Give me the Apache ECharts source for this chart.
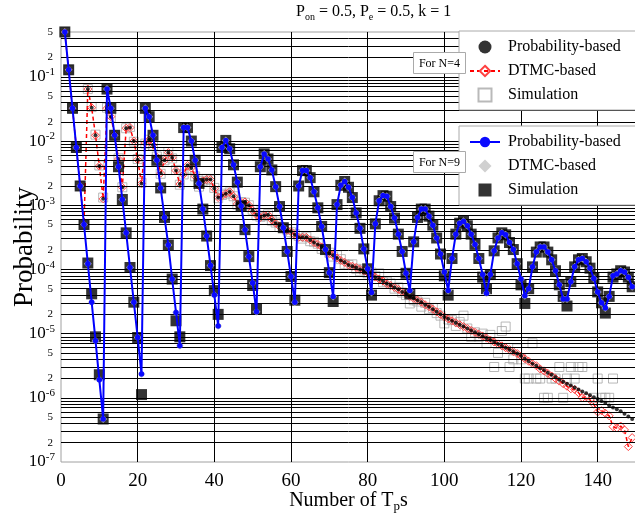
<!DOCTYPE html>
<html>
<head>
<meta charset="utf-8">
<script src="https://cdn.jsdelivr.net/npm/echarts@6/dist/echarts.min.js"></script>
<style>html,body{margin:0;padding:0;background:#fff}#c{width:635px;height:517px}</style>
</head>
<body>
<div id="c"></div>
<script>
// All probabilities are stored as log10(probability).
// Step index k = 1, 2, 3, ... (Number of Tps)
const n9ProbLog10 = [
 -0.30,-0.89,-1.49,-2.10,-2.70,-3.30,-3.91,-4.51,-5.11,-5.72,
 -6.33,-1.19,-1.49,-1.91,-2.40,-2.91,-3.43,-3.97,-4.51,-5.06,
 -5.63,-1.49,-1.62,-1.91,-2.30,-2.73,-3.19,-3.62,-4.15,-4.67,
 -5.19,-1.79,-1.79,-2.00,-2.30,-2.66,-3.06,-3.48,-3.94,-4.40,
 -4.88,-2.10,-1.99,-2.12,-2.37,-2.64,-3.01,-3.38,-3.80,-4.21,
 -4.66,-2.40,-2.20,-2.28,-2.45,-2.71,-3.02,-3.35,-3.72,-4.11,
 -4.51,-2.70,-2.46,-2.46,-2.57,-2.79,-3.04,-3.33,-3.69,-4.05,
 -4.42,-2.99,-2.69,-2.63,-2.72,-2.88,-3.12,-3.36,-3.68,-3.99,
 -4.36,-3.29,-2.93,-2.85,-2.86,-3.02,-3.20,-3.45,-3.72,-4.06,
 -4.33,-3.57,-3.19,-3.06,-3.06,-3.17,-3.31,-3.51,-3.76,-4.04,
 -4.33,-3.83,-3.45,-3.28,-3.25,-3.32,-3.45,-3.61,-3.83,-4.08,
 -4.37,-4.08,-3.71,-3.51,-3.43,-3.46,-3.58,-3.69,-3.91,-4.15,
 -4.41,-4.30,-3.96,-3.73,-3.65,-3.65,-3.73,-3.85,-4.02,-4.24,
 -4.46,-4.46,-4.19,-3.96,-3.85,-3.83,-3.88,-3.98,-4.14,-4.35,
 -4.52,-4.60,-4.42,-4.10,-4.07,-4.02,-4.04,-4.12,-4.27
];
const n9DtmcLog10 = [
 -0.30,-0.89,-1.49,-2.10,-2.70,-3.30,-3.91,-4.51,-5.11,-5.72,
 -6.33,-1.19,-1.49,-1.91,-2.40,-2.91,-3.43,-3.97,-4.51,-5.06,
 -5.63,-1.49,-1.62,-1.91,-2.30,-2.73,-3.19,-3.62,-4.15,-4.67,
 -5.19,-1.79,-1.79,-2.00,-2.30,-2.66,-3.06,-3.48,-3.94,-4.40,
 -4.88,-2.10,-1.99,-2.12,-2.37,-2.64,-3.01,-3.38,-3.80,-4.21,
 -4.66,-2.40,-2.20,-2.28,-2.45,-2.71,-3.02,-3.35,-3.72,-4.11,
 -4.51,-2.70,-2.46,-2.46,-2.57,-2.79,-3.04,-3.33,-3.69,-4.05,
 -4.42,-2.99,-2.69,-2.63,-2.72,-2.88,-3.12,-3.36,-3.68,-3.99,
 -4.36,-3.29,-2.93,-2.85,-2.86,-3.02,-3.20,-3.45,-3.72,-4.06,
 -4.33,-3.57,-3.19,-3.06,-3.06,-3.17,-3.31,-3.51,-3.76,-4.04,
 -4.33,-3.83,-3.45,-3.28,-3.25,-3.32,-3.45,-3.61,-3.83,-4.08,
 -4.37,-4.08,-3.71,-3.51,-3.43,-3.46,-3.58,-3.69,-3.91,-4.15,
 -4.41,-4.30,-3.96,-3.73,-3.65,-3.65,-3.73,-3.85,-4.02,-4.24,
 -4.46,-4.46,-4.19,-3.96,-3.85,-3.83,-3.88,-3.98,-4.14,-4.35,
 -4.52,-4.60,-4.42,-4.10,-4.07,-4.02,-4.04,-4.12,-4.27
];
const n9SimLog10 = [
 -0.30,-0.89,-1.49,-2.10,-2.70,-3.30,-3.90,-4.38,-5.05,-5.64,
 -6.33,-1.19,-1.49,-1.91,-2.40,-2.91,-3.43,-3.97,-4.51,-5.06,
 -5.95,-1.49,-1.62,-1.91,-2.30,-2.73,-3.19,-3.62,-4.15,-4.80,
 -5.05,-1.79,-1.79,-2.00,-2.30,-2.66,-3.06,-3.48,-3.94,-4.33,
 -4.70,-2.10,-1.99,-2.12,-2.37,-2.64,-3.01,-3.38,-3.80,-4.25,
 -4.62,-2.40,-2.20,-2.28,-2.45,-2.71,-3.02,-3.35,-3.72,-4.11,
 -4.48,-2.70,-2.46,-2.46,-2.57,-2.79,-3.04,-3.33,-3.69,-4.05,
 -4.50,-2.99,-2.69,-2.63,-2.72,-2.88,-3.12,-3.36,-3.68,-3.99,
 -4.40,-3.29,-2.93,-2.85,-2.86,-3.02,-3.20,-3.45,-3.72,-4.06,
 -4.38,-3.57,-3.19,-3.06,-3.06,-3.17,-3.31,-3.51,-3.76,-4.10,
 -4.40,-3.83,-3.45,-3.28,-3.25,-3.32,-3.45,-3.61,-3.83,-4.12,
 -4.30,-4.08,-3.71,-3.51,-3.43,-3.46,-3.58,-3.69,-3.91,-4.24,
 -4.53,-4.30,-3.96,-3.73,-3.65,-3.65,-3.73,-3.85,-4.02,-4.24,
 -4.42,-4.57,-4.19,-3.96,-3.85,-3.83,-3.88,-3.98,-4.14,-4.35,
 -4.52,-4.68,-4.42,-4.12,-4.07,-4.02,-4.04,-4.12,-4.27
];
const n4ProbLog10 = [
 -0.30,-0.89,-1.49,-2.10,-2.70,-3.30,-1.19,-1.48,-1.91,-2.39,
 -2.90,-1.49,-1.62,-1.90,-2.28,-2.72,-1.80,-1.79,-2.00,-2.29,
 -2.66,-2.03,-1.98,-2.06,-2.25,-2.50,-2.30,-2.18,-2.26,-2.46,
 -2.67,-2.52,-2.38,-2.42,-2.55,-2.70,-2.62,-2.60,-2.60,-2.74,
 -2.88,-2.85,-2.82,-2.79,-2.86,-2.98,-2.96,-2.95,-3.00,-3.08,
 -3.15,-3.19,-3.16,-3.15,-3.23,-3.28,-3.33,-3.36,-3.39,-3.41,
 -3.46,-3.50,-3.50,-3.50,-3.54,-3.58,-3.61,-3.65,-3.70,-3.75,
 -3.78,-3.82,-3.86,-3.89,-3.93,-3.95,-3.97,-4.00,-4.02,-4.05,
 -4.08,-4.12,-4.15,-4.18,-4.22,-4.25,-4.28,-4.31,-4.35,-4.38,
 -4.42,-4.45,-4.48,-4.51,-4.55,-4.58,-4.62,-4.66,-4.70,-4.74,
 -4.77,-4.80,-4.83,-4.86,-4.89,-4.92,-4.95,-4.98,-5.01,-5.04,
 -5.07,-5.10,-5.13,-5.16,-5.19,-5.22,-5.25,-5.28,-5.31,-5.35,
 -5.39,-5.43,-5.47,-5.50,-5.54,-5.57,-5.61,-5.64,-5.68,-5.72,
 -5.75,-5.78,-5.81,-5.84,-5.87,-5.90,-5.93,-5.96,-5.99,-6.02,
 -6.05,-6.08,-6.12,-6.15,-6.18,-6.21,-6.25,-6.29,-6.33
];
const n4DtmcLog10 = [
 -0.30,-0.89,-1.49,-2.10,-2.70,-3.30,-1.19,-1.48,-1.91,-2.39,
 -2.90,-1.49,-1.62,-1.90,-2.28,-2.72,-1.80,-1.79,-2.00,-2.29,
 -2.66,-2.03,-1.98,-2.06,-2.25,-2.50,-2.30,-2.18,-2.26,-2.46,
 -2.67,-2.52,-2.38,-2.42,-2.55,-2.70,-2.62,-2.60,-2.60,-2.74,
 -2.88,-2.85,-2.82,-2.79,-2.86,-2.98,-2.96,-2.95,-3.00,-3.08,
 -3.15,-3.19,-3.16,-3.15,-3.23,-3.28,-3.33,-3.36,-3.39,-3.41,
 -3.46,-3.50,-3.50,-3.50,-3.54,-3.58,-3.61,-3.65,-3.70,-3.75,
 -3.78,-3.82,-3.86,-3.89,-3.93,-3.95,-3.97,-4.00,-4.02,-4.05,
 -4.08,-4.12,-4.15,-4.18,-4.22,-4.25,-4.28,-4.31,-4.35,-4.38,
 -4.42,-4.45,-4.48,-4.51,-4.55,-4.58,-4.62,-4.66,-4.70,-4.74,
 -4.77,-4.80,-4.83,-4.86,-4.89,-4.92,-4.95,-4.98,-5.01,-5.04,
 -5.07,-5.10,-5.13,-5.16,-5.19,-5.22,-5.25,-5.28,-5.31,-5.35,
 -5.39,-5.43,-5.47,-5.50,-5.55,-5.58,-5.62,-5.66,-5.70,-5.74,
 -5.78,-5.82,-5.86,-5.87,-5.92,-6.00,-5.98,-6.03,-6.10,-6.22,
 -6.20,-6.24,-6.28,-6.45,-6.47,-6.44,-6.50,-6.76,-6.62
];
const n4SimLog10 = [
 -0.30,-0.89,-1.49,-2.10,-2.70,-3.30,-1.19,-1.47,-1.90,-2.38,
 -2.88,-1.48,-1.63,-1.91,-2.27,-2.72,-1.80,-1.78,-2.01,-2.28,
 -2.65,-2.04,-1.98,-2.07,-2.24,-2.51,-2.30,-2.17,-2.27,-2.45,
 -2.68,-2.52,-2.37,-2.43,-2.55,-2.71,-2.62,-2.59,-2.61,-2.73,
 -2.89,-2.84,-2.82,-2.80,-2.86,-2.99,-2.95,-2.96,-3.00,-3.07,
 -3.16,-3.18,-3.17,-3.14,-3.24,-3.27,-3.34,-3.35,-3.38,-3.42,
 -3.45,-3.48,-3.52,-3.49,-3.56,-3.57,-3.60,-3.68,-3.69,-3.74,
 -3.80,-3.78,-3.84,-3.92,-3.93,-3.92,-3.99,-4.03,-4.00,-4.06,
 -4.05,-4.10,-4.06,-4.20,-4.19,-4.22,-4.30,-4.28,-4.36,-4.40,
 -4.53,-4.48,-4.50,-4.58,-4.52,-4.62,-4.60,-4.68,-4.72,-4.84,
 -4.78,-4.79,-4.88,-4.82,-4.72,-4.92,-5.05,-4.98,-5.05,-5.00,
 -5.15,-5.02,-5.52,-5.30,-4.96,-4.89,-5.52,-5.40,-5.23,-5.40,
 -5.70,-5.70,-5.15,-5.70,-5.70,-6.00,-6.00,-5.70,-5.70,-5.52,
 -6.00,-5.70,-5.52,-5.70,-5.52,-5.52,null,null,-6.00,-5.70,
 -6.00,-6.00,-6.00,-5.70,null,null,null,null,null
];
const xTicks = [0, 20, 40, 60, 80, 100, 120, 140];
const decades = [-7, -6, -5, -4, -3, -2, -1];
const minorMantissas = [2, 3, 4, 5, 6, 7, 8, 9];
const labeledMantissas = [2, 5];

const FONT = 'Liberation Serif';
const pairs = arr => arr.map((v, i) => [i + 1, v]);
const Y_MAX = -1 + Math.log10(5);   // top of axis = 0.5

// y tick label positions (log10 space)
const yLabelValues = [];
decades.forEach(d => {
  yLabelValues.push(d);
  labeledMantissas.forEach(m => yLabelValues.push(d + Math.log10(m)));
});
// horizontal grid line positions
const hLines = [];
decades.forEach(d => {
  if (d !== -7) hLines.push({ yAxis: d });
  minorMantissas.forEach(m => {
    const v = d + Math.log10(m);
    if (v < Y_MAX - 1e-6) hLines.push({ yAxis: v });
  });
});
const vLines = xTicks.filter(t => t > 0).map(t => ({ xAxis: t }));

const SQUARE_ICON = 'path://M0,0L10,0L10,10L0,10Z';
const DIAMOND_ICON = 'path://M5,0L10,5L5,10L0,5Z';

const legendCommon = {
  orient: 'vertical', left: 459, itemWidth: 30, itemHeight: 13, itemGap: 8,
  padding: [8, 40, 7, 10], backgroundColor: '#fff', borderColor: '#aaa', borderWidth: 1,
  selectedMode: false, symbolKeepAspect: true, z: 50, formatter: n => n.slice(3),
  textStyle: { fontFamily: FONT, fontSize: 16, color: '#000', padding: [0, 0, 0, 3] }
};

const chart = echarts.init(document.getElementById('c'), null, { renderer: 'canvas' });
chart.setOption({
  animation: false,
  backgroundColor: '#fff',
  grid: { left: 61, top: 32, width: 575, height: 430, show: true, borderColor: '#a0a0a0', borderWidth: 1, backgroundColor: 'transparent', containLabel: false, outerBoundsMode: 'none' },
  xAxis: {
    type: 'value', min: 0, max: 150, interval: 20,
    axisLine: { show: false }, axisTick: { show: false }, splitLine: { show: false },
    axisLabel: { color: '#000', fontFamily: FONT, fontSize: 19, margin: 10, formatter: v => (v % 20 === 0 && v <= 140) ? String(v) : '' },
    name: '{a|Number of T}{s|p}{a|s}', nameLocation: 'middle', nameGap: 29, nameMoveOverlap: false,
    nameTextStyle: { color: '#000', fontFamily: FONT, fontSize: 20,
      rich: { a: { fontFamily: FONT, fontSize: 20, color: '#000', lineHeight: 22, verticalAlign: 'top' },
              s: { fontFamily: FONT, fontSize: 13, color: '#000', lineHeight: 13, verticalAlign: 'bottom' } } }
  },
  yAxis: {
    type: 'value', min: -7, max: Y_MAX, interval: 1,
    axisLine: { show: false }, axisTick: { show: false }, splitLine: { show: false },
    axisLabel: {
      customValues: yLabelValues, margin: 6, color: '#000',
      formatter: v => {
        const d = Math.floor(v + 1e-6);
        const m = Math.round(Math.pow(10, v - d));
        if (m === 1) return '{b|10}{s|' + d + '}';
        return '{m|' + m + '}';
      },
      rich: {
        b: { fontFamily: FONT, fontSize: 17, color: '#000', lineHeight: 20 },
        s: { fontFamily: FONT, fontSize: 11, color: '#000', lineHeight: 11, padding: [0, 0, 9, 0] },
        m: { fontFamily: FONT, fontSize: 11, color: '#000', padding: [0, 2, 0, 0] }
      }
    },
    name: 'Probability', nameLocation: 'middle', nameGap: 23, nameRotate: 90, nameMoveOverlap: false,
    nameTextStyle: { color: '#000', fontFamily: FONT, fontSize: 27 }
  },
  legend: [
    Object.assign({}, legendCommon, { top: 31, data: [
      { name: 'N4 Probability-based' },
      { name: 'N4 DTMC-based' },
      { name: 'N4 Simulation', icon: SQUARE_ICON }
    ] }),
    Object.assign({}, legendCommon, { top: 126, data: [
      { name: 'N9 Probability-based' },
      { name: 'N9 DTMC-based', icon: DIAMOND_ICON },
      { name: 'N9 Simulation', icon: SQUARE_ICON }
    ] })
  ],
  graphic: [
    { type: 'text', left: 296, top: 4, z: 100,
      style: { text: '{a|P}{s|on}{a| = 0.5, P}{s|e}{a| = 0.5, k = 1}',
        rich: { a: { fontFamily: FONT, fontSize: 16, fill: '#000', lineHeight: 18, verticalAlign: 'top' },
                s: { fontFamily: FONT, fontSize: 10, fill: '#000', lineHeight: 10, verticalAlign: 'bottom' } } } },
    { type: 'group', left: 413, top: 52, z: 100, children: [
      { type: 'rect', z: 100, shape: { x: 0, y: 0, width: 52, height: 21 }, style: { fill: '#fff', stroke: '#aaa', lineWidth: 1 } },
      { type: 'text', z: 101, x: 26, y: 11, style: { text: 'For N=4', fontFamily: FONT, fontSize: 12, fill: '#000', align: 'center', verticalAlign: 'middle' } }
    ] },
    { type: 'group', left: 413, top: 151, z: 100, children: [
      { type: 'rect', z: 100, shape: { x: 0, y: 0, width: 52, height: 21 }, style: { fill: '#fff', stroke: '#aaa', lineWidth: 1 } },
      { type: 'text', z: 101, x: 26, y: 11, style: { text: 'For N=9', fontFamily: FONT, fontSize: 12, fill: '#000', align: 'center', verticalAlign: 'middle' } }
    ] }
  ],
  series: [
    { type: 'line', name: 'gridlines', data: [], silent: true, z: 1,
      markLine: { silent: true, symbol: ['none', 'none'], label: { show: false },
        lineStyle: { color: '#000', width: 1, type: 'solid' },
        emphasis: { disabled: true }, data: hLines.concat(vLines) } },
    { type: 'scatter', name: 'N4 Simulation', data: pairs(n4SimLog10), symbol: 'rect', symbolSize: 9, z: 2,
      itemStyle: { color: 'rgba(255,255,255,0)', borderColor: '#a8a8a8', borderWidth: 1 } },
    { type: 'line', name: 'N4 DTMC-based', data: pairs(n4DtmcLog10), symbol: 'diamond', symbolSize: 8, z: 3,
      lineStyle: { color: '#ff0000', width: 1.5, type: [4, 3] },
      itemStyle: { color: 'rgba(255,255,255,0)', borderColor: '#ff4040', borderWidth: 1 } },
    { type: 'scatter', name: 'N4 Probability-based', data: pairs(n4ProbLog10), symbol: 'circle', symbolSize: 4, z: 4,
      itemStyle: { color: '#000' } },
    { type: 'scatter', name: 'N9 Simulation', data: pairs(n9SimLog10), symbol: 'rect', symbolSize: 11, z: 5,
      itemStyle: { color: '#000' } },
    { type: 'scatter', name: 'N9 DTMC-based', data: pairs(n9DtmcLog10), symbol: 'diamond', symbolSize: 8, z: 6,
      itemStyle: { color: '#c4c4c4' } },
    { type: 'line', name: 'N9 Probability-based', data: pairs(n9ProbLog10), symbol: 'circle', symbolSize: 5.5, z: 7,
      showSymbol: true, lineStyle: { color: '#0000ff', width: 2 }, itemStyle: { color: '#0a0aff' } }
  ]
});
</script>
</body>
</html>
